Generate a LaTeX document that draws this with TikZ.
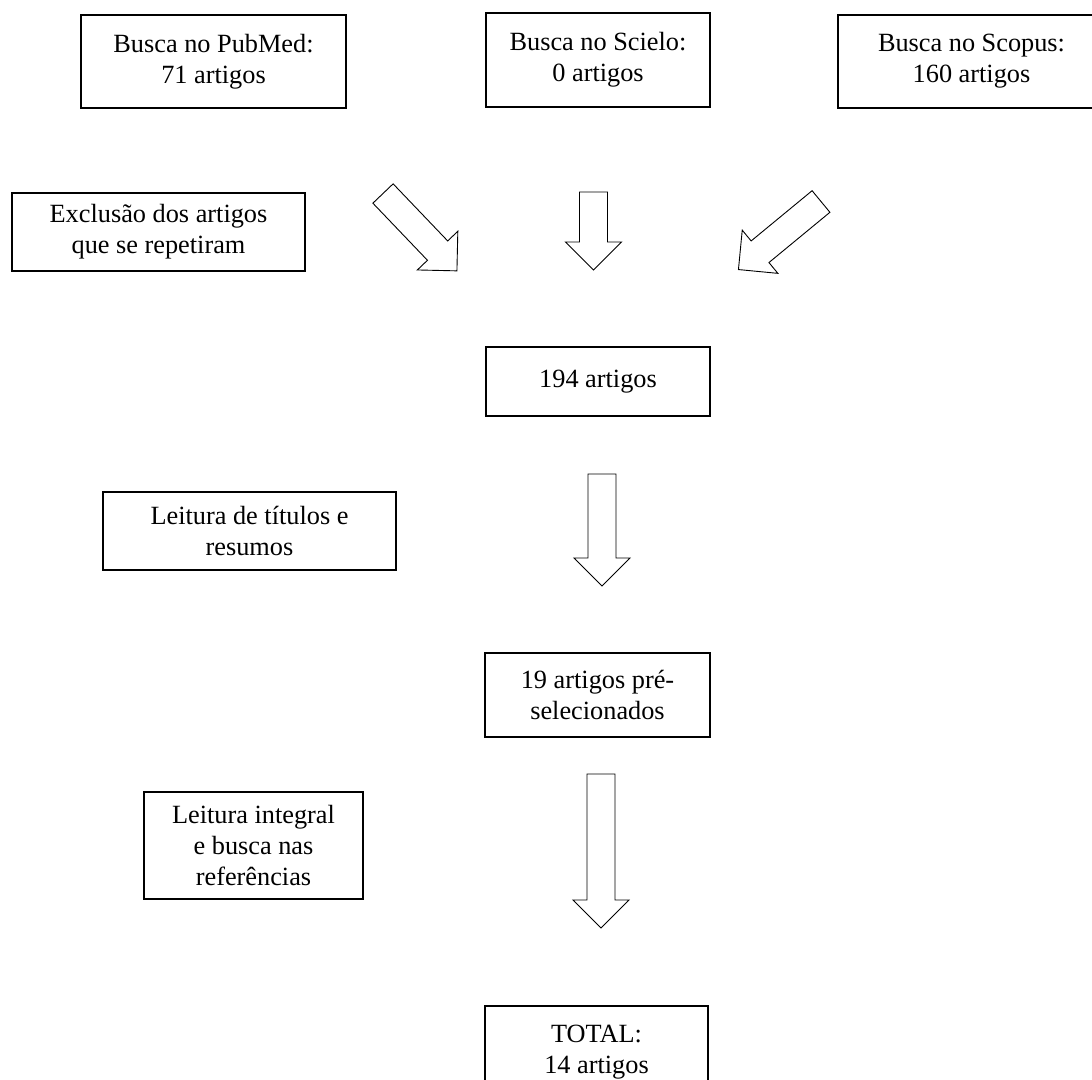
\documentclass[tikz,border=0pt]{standalone}
\usepackage{fontspec}
\setmainfont{Liberation Serif}
\usepackage{tikz}

\begin{document}
\begin{tikzpicture}[x=1pt, y=-1pt,
    caixa/.style={draw, line width=1.1pt, align=center, inner sep=0pt,
        font=\fontsize{26.3}{31}\selectfont},
    seta/.style={draw, line width=0.9pt, line join=miter},
    pics/setabloco/.style={code={
        \path[seta] (0,-14) -- (#1,-14) -- (#1,-28) -- (#1+28,0)
            -- (#1,28) -- (#1,14) -- (0,14) -- cycle;
    }}]
    \useasboundingbox (0,0) rectangle (1092,1079);

    % Buscas nas bases
    \node[caixa, minimum width=265pt, minimum height=93pt] (pubmed) at (213.5,61.5) {Busca no PubMed:\\71 artigos};
    \node[caixa, minimum width=224pt, minimum height=94pt] (scielo) at (598,60) {Busca no Scielo:\\0 artigos};
    \node[caixa, minimum width=267pt, minimum height=93pt] (scopus) at (971.5,61.5) {Busca no Scopus:\\160 artigos};

    % Exclusão dos repetidos
    \node[caixa, minimum width=293pt, minimum height=78pt] (exclusao) at (158.5,232) {Exclusão dos artigos\\que se repetiram};
    \pic[rotate=-46.3] at (383,193.5) {setabloco=79};
    \pic[rotate=-90] at (593.5,192) {setabloco=50};
    \pic[rotate=-140.5] at (821,201.5) {setabloco=79};

    % 194 artigos
    \node[caixa, minimum width=224pt, minimum height=69pt] (total194) at (598,381.5) {194 artigos};

    % Leitura de títulos e resumos
    \node[caixa, minimum width=293pt, minimum height=78pt] (leitura1) at (249.5,531) {Leitura de títulos e\\resumos};
    \pic[rotate=-90] at (602,474) {setabloco=84};

    % Pré-selecionados
    \node[caixa, minimum width=225pt, minimum height=84pt] (presel) at (597.5,695) {19 artigos pré-\\selecionados};

    % Leitura integral
    \node[caixa, minimum width=219pt, minimum height=107pt] (leitura2) at (253.5,845.5) {Leitura integral\\e busca nas\\referências};
    \pic[rotate=-90] at (601,774) {setabloco=126};

    % Total final
    \node[caixa, minimum width=223pt, minimum height=92pt] (final) at (596.5,1052) {TOTAL:\\14 artigos};
\end{tikzpicture}
\end{document}
